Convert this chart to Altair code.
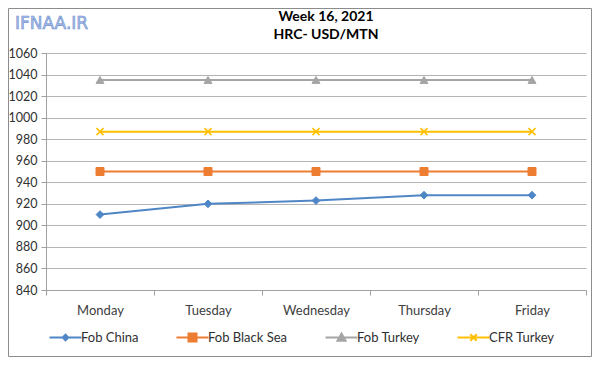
import altair as alt
import pandas as pd

days = ["Monday", "Tuesday", "Wednesday", "Thursday", "Friday"]
series_names = ["Fob China", "Fob Black Sea", "Fob Turkey", "CFR Turkey"]
fob_china = [910, 920, 923, 928, 928]
fob_black_sea = [950, 950, 950, 950, 950]
fob_turkey = [1035, 1035, 1035, 1035, 1035]
cfr_turkey = [987, 987, 987, 987, 987]
y_ticks = list(range(840, 1061, 20))
title_lines = ["Week 16, 2021", "HRC- USD/MTN"]
logo_text = ["IFNAA.IR"]

colors = ["#4f86c6", "#ed7d31", "#a5a5a5", "#ffc000"]
X_PATH = "M-1,-1L1,1M-1,1L1,-1"
point_shapes = ["diamond", "square", "triangle-up", X_PATH]
point_sizes = [60, 64, 64, 49]
legend_paths = [
    "M-4,0H4M0,-0.7L0.7,0L0,0.7L-0.7,0Z",
    "M-4,0H4M-1,-1H1V1H-1Z",
    "M-4,0H4M0,-1L1,0.8L-1,0.8Z",
    "M-4,0H4M-0.8,-0.8L0.8,0.8M-0.8,0.8L0.8,-0.8",
]

values = [fob_china, fob_black_sea, fob_turkey, cfr_turkey]
rows = []
for name, vals in zip(series_names, values):
    for d, v in zip(days, vals):
        rows.append({"day": d, "series": name, "value": v})
df = pd.DataFrame(rows)

FONT = "Lato"
x_enc = alt.X(
    "day:N",
    sort=days,
    scale=alt.Scale(type="band", domain=days, paddingInner=0, paddingOuter=0),
    axis=alt.Axis(
        title=None, tickBand="extent", grid=False, labelAngle=0,
        labelFont=FONT, labelFontSize=13, labelColor="#404040",
        labelPadding=9, tickSize=5, tickColor="#a0a0a0",
        domainColor="#a0a0a0",
    ),
)
y_enc = alt.Y(
    "value:Q",
    scale=alt.Scale(domain=[840, 1060], nice=False, zero=False),
    axis=alt.Axis(
        title=None, values=y_ticks, format="d", grid=True, gridColor="#b4b4b4",
        gridWidth=1, labelFont=FONT, labelFontSize=12.5, labelColor="#303030",
        labelPadding=4, tickSize=5, tickColor="#a0a0a0", domainColor="#a0a0a0",
    ),
)

base = alt.Chart(df)
layers = []
for name, col, shp, sz in zip(series_names, colors, point_shapes, point_sizes):
    sub = base.transform_filter(alt.datum.series == name)
    layers.append(sub.mark_line(color=col, strokeWidth=2).encode(x=x_enc, y=y_enc))
    if shp == X_PATH:
        pm = sub.mark_point(shape=shp, size=sz, filled=False, stroke=col,
                            strokeWidth=1.5, opacity=1)
    else:
        pm = sub.mark_point(shape=shp, size=sz, filled=True, fill=col,
                            stroke=col, strokeWidth=1, opacity=1)
    layers.append(pm.encode(x=x_enc, y=y_enc))

legend = alt.Legend(
    title=None, orient="none", legendX=13, legendY=278, direction="horizontal",
    columns=4, gridAlign="none", columnPadding=33, labelOffset=9,
    labelFont=FONT, labelFontSize=13, labelColor="#303030",
    symbolSize=64, symbolStrokeWidth=2, padding=0,
)
legend_layer = base.transform_filter("false").mark_point(filled=True, opacity=1).encode(
    x=x_enc, y=y_enc,
    shape=alt.Shape("series:N", scale=alt.Scale(domain=series_names, range=legend_paths), legend=legend),
    fill=alt.Fill("series:N", scale=alt.Scale(domain=series_names, range=colors), legend=legend),
    stroke=alt.Stroke("series:N", scale=alt.Scale(domain=series_names, range=colors), legend=legend),
)

frame = alt.Chart(pd.DataFrame({"a": [0]})).mark_rect(
    fill=None, stroke="#8c8c8c", strokeWidth=1, clip=False
).encode(x=alt.value(-37.5), x2=alt.value(545.5), y=alt.value(-44.5), y2=alt.value(303.5))

logo = alt.Chart(pd.DataFrame({"t": logo_text})).mark_text(
    font="DejaVu Sans", fontSize=17, fill="#a9bfe8", stroke="#6f90cf",
    strokeWidth=0.6, align="left", baseline="alphabetic", clip=False,
).encode(text="t:N", x=alt.value(-31), y=alt.value(-24))

title1 = alt.Chart(pd.DataFrame({"t": [title_lines[0]]})).mark_text(
    font=FONT, fontSize=14, fontWeight="bold", color="#000000",
    align="center", baseline="middle", clip=False,
).encode(text="t:N", x=alt.value(280), y=alt.value(-36))
title2 = alt.Chart(pd.DataFrame({"t": [title_lines[1]]})).mark_text(
    font=FONT, fontSize=14, fontWeight="bold", color="#000000",
    align="center", baseline="middle", clip=False,
).encode(text="t:N", x=alt.value(280), y=alt.value(-18))

chart = alt.layer(*layers, legend_layer, frame, logo, title1, title2).properties(
    width=540, height=237,
    autosize=alt.AutoSizeParams(type="none"),
    padding={"left": 38, "top": 45, "right": 6, "bottom": 67},
).configure_view(stroke=None)

chart.save("out.html", embed_options={"renderer": "svg", "actions": False})
